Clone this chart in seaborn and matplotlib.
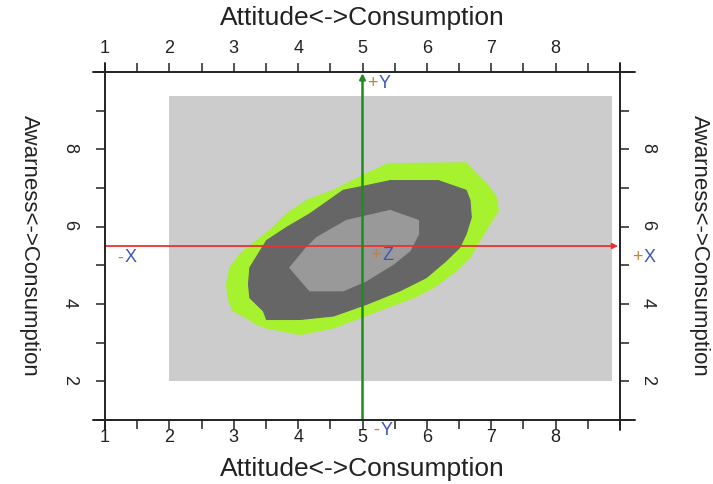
import matplotlib
matplotlib.use("Agg")
import matplotlib.pyplot as plt
import seaborn as sns
import pandas as pd
from matplotlib.lines import Line2D

# ---------------- data ----------------
x_label = "Attitude<->Consumption"
y_label = "Awarness<->Consumption"

x_ticks = [1, 2, 3, 4, 5, 6, 7, 8, 9]
x_tick_labels = ["1", "2", "3", "4", "5", "6", "7", "8", ""]
x_minor = [1.5, 2.5, 3.5, 4.5, 5.5, 6.5, 7.5, 8.5]
y_ticks = [1, 2, 3, 4, 5, 6, 7, 8, 9, 10]
y_tick_labels = ["", "2", "", "4", "", "6", "", "8", "", ""]

rect_x = [2.0, 8.87]
rect_y = [2.0, 9.38]

outer_x = [5.40, 6.61, 6.77, 6.93, 7.08, 7.11, 6.98, 6.82, 6.67, 6.46, 6.10, 5.79,
           5.37, 4.96, 4.55, 4.03, 3.51, 3.36, 3.20, 2.99, 2.91, 2.89, 2.94, 3.10,
           3.36, 3.61, 3.82, 4.13, 4.55, 4.75, 5.06]
outer_y = [7.63, 7.65, 7.37, 7.11, 6.76, 6.42, 6.07, 5.64, 5.20, 4.86, 4.42, 4.16,
           3.90, 3.64, 3.38, 3.21, 3.38, 3.47, 3.64, 3.82, 4.16, 4.51, 4.94, 5.29,
           5.64, 5.98, 6.33, 6.68, 6.94, 7.11, 7.37]

middle_x = [5.43, 6.18, 6.61, 6.67, 6.69, 6.61, 6.51, 6.30, 5.99, 5.58, 5.06, 4.55,
            4.03, 3.51, 3.46, 3.25, 3.23, 3.25, 3.51, 3.82, 4.18, 4.70, 5.06]
middle_y = [7.19, 7.19, 6.94, 6.68, 6.24, 5.81, 5.46, 5.12, 4.68, 4.34, 3.99, 3.69,
            3.60, 3.60, 3.82, 4.16, 4.51, 4.94, 5.64, 5.98, 6.33, 6.94, 7.06]

inner_x = [5.43, 5.87, 5.87, 5.74, 5.48, 5.06, 4.70, 4.18, 3.87, 4.13, 4.29, 4.75, 4.96]
inner_y = [6.42, 6.16, 5.81, 5.38, 5.03, 4.60, 4.34, 4.34, 4.94, 5.46, 5.72, 6.16, 6.24]

h_axis = {"x": [1.0, 8.97], "y": 5.5}
v_axis = {"x": 5.0, "y": [1.0, 9.97]}

markers = [
    # sign, letter, x, y
    ("-", "X", 1.30, 5.19),
    ("+", "X", 9.36, 5.19),
    ("+", "Y", 5.25, 9.70),
    ("-", "Y", 5.27, 0.74),
    ("+", "Z", 5.30, 5.25),
]

# ---------------- style ----------------
sns.set_style("white")
plt.rcParams["font.family"] = ["Liberation Sans", "DejaVu Sans"]

fig = plt.figure(figsize=(7.13, 4.84), dpi=100)
ax = fig.add_axes([105 / 713, 1 - 420 / 484, 515 / 713, 348 / 484])
ax.set_xlim(1, 9)
ax.set_ylim(1, 10)

# background rectangle
ax.fill_between(rect_x, rect_y[0], rect_y[1], color="#cccccc", lw=0, zorder=1)

levels = pd.DataFrame({
    "name": ["outer", "middle", "inner"],
    "color": ["#a6f22e", "#666666", "#999999"],
})
polys = {"outer": (outer_x, outer_y), "middle": (middle_x, middle_y),
         "inner": (inner_x, inner_y)}
for i, row in levels.iterrows():
    px, py = polys[row["name"]]
    ax.fill(px, py, color=row["color"], lw=0, zorder=2 + i)
    sns.lineplot(x=px + [px[0]], y=py + [py[0]], sort=False, estimator=None,
                 color=row["color"], lw=0.8, ax=ax, zorder=2 + i)

# cross-hair arrows
ax.annotate("", xy=(h_axis["x"][1], h_axis["y"]), xytext=(h_axis["x"][0], h_axis["y"]),
            arrowprops=dict(arrowstyle="-|>", color="#ee3030", lw=1.3,
                            mutation_scale=8, shrinkA=0, shrinkB=0), zorder=6)
ax.annotate("", xy=(v_axis["x"], v_axis["y"][1]), xytext=(v_axis["x"], v_axis["y"][0]),
            arrowprops=dict(arrowstyle="-|>", color="#1e8c1e", lw=1.8,
                            mutation_scale=8, shrinkA=0, shrinkB=0), zorder=6)

for sign, letter, mx, my in markers:
    ax.annotate(sign, (mx, my), xytext=(-0.6, 0), textcoords="offset points",
                color="#c8802a", fontsize=13, ha="right", va="center",
                zorder=8, annotation_clip=False)
    ax.annotate(letter, (mx, my), xytext=(0.2, 0), textcoords="offset points",
                color="#3f55b5", fontsize=13, ha="left", va="center",
                zorder=8, annotation_clip=False)

# ---------------- frame ----------------
for s in ax.spines.values():
    s.set_visible(False)
frame_kw = dict(color="#222222", lw=1.4, transform=ax.transAxes, clip_on=False, zorder=10)
ax.add_line(Line2D([-0.023, 1.029], [0, 0], **frame_kw))
ax.add_line(Line2D([-0.023, 1.029], [1, 1], **frame_kw))
ax.add_line(Line2D([0, 0], [-0.029, 1.026], **frame_kw))
ax.add_line(Line2D([1, 1], [-0.029, 1.026], **frame_kw))

tick_kw = dict(direction="out", length=6.5, width=1.1, color="#222222",
               labelsize=13, labelcolor="#222222")

# bottom / left
ax.set_xticks(x_ticks)
ax.set_xticklabels(x_tick_labels)
ax.set_xticks(x_minor, minor=True)
ax.set_yticks(y_ticks)
ax.set_yticklabels(y_tick_labels)
ax.tick_params(axis="x", which="both", bottom=True, pad=0, **tick_kw)
ax.tick_params(axis="y", which="both", left=True, pad=13, labelrotation=-90, **tick_kw)

# top / right
axt = ax.secondary_xaxis("top")
axt.set_xticks(x_ticks)
axt.set_xticklabels(x_tick_labels)
axt.set_xticks(x_minor, minor=True)
axt.tick_params(axis="x", which="both", top=True, pad=4, **tick_kw)
axr = ax.secondary_yaxis("right")
axr.set_yticks(y_ticks)
axr.set_yticklabels(y_tick_labels)
axr.tick_params(axis="y", which="both", right=True, pad=7, labelrotation=-90, **tick_kw)
for sa in (axt, axr):
    for s in sa.spines.values():
        s.set_visible(False)

# axis labels
lab_kw = dict(color="#222222")
ax.set_xlabel(x_label, fontsize=19, **lab_kw)
ax.xaxis.set_label_coords(0.5, -0.141)
ax.xaxis.label.set_va("center")
ax.set_ylabel(y_label, fontsize=16, rotation=-90, **lab_kw)
ax.yaxis.set_label_coords(-0.146, 0.5)
ax.yaxis.label.set_va("center")
ax.yaxis.label.set_ha("center")
# top and right titles of the secondary axes
ax.text(0.5, 1.155, x_label, fontsize=19, ha="center", va="center",
        transform=ax.transAxes, **lab_kw)
ax.text(1.155, 0.5, y_label, fontsize=16, rotation=-90, ha="center", va="center",
        transform=ax.transAxes, **lab_kw)

ax.set_facecolor("white")
fig.savefig("out.png", dpi=100, facecolor="white")
